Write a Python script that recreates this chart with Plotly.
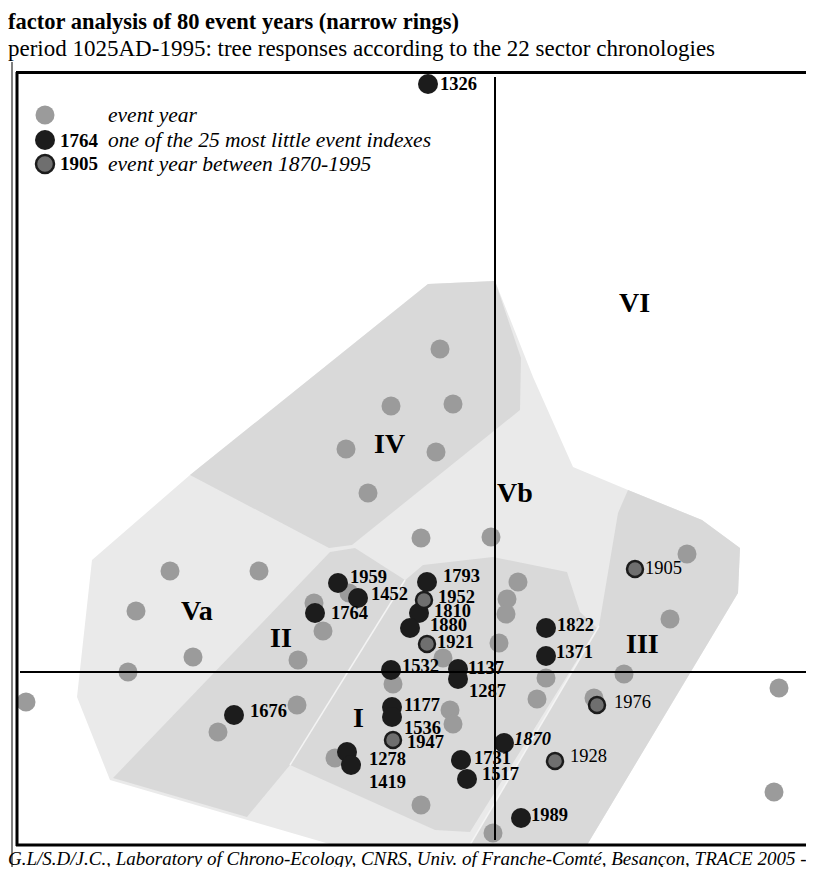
import plotly.graph_objects as go

# ---------------- data (factor scores: F1 horizontal, F2 vertical) ----------------
event_x = [-0.55, -1.04, -0.42, -1.49, -0.59, -1.27, -0.74, -0.04, -3.25, -2.36,
           -3.59, -3.02, -3.67, -4.69, -1.81, -1.46, -1.72, -1.97, -1.98, -2.77,
           -0.52, -1.02, -0.45, -0.42, -1.60, -0.74, -0.02, 0.23, 0.12, 0.11,
           0.04, 0.51, 0.42, 0.99, 1.29, 1.75, 1.92, 2.84, 2.79]
event_y = [3.23, 2.66, 2.68, 2.23, 2.20, 1.79, 1.34, 1.35, 1.01, 1.01,
           0.61, 0.15, 0.00, -0.30, 0.69, 0.79, 0.41, 0.12, -0.33, -0.60,
           0.14, -0.12, -0.38, -0.52, -0.86, -1.33, -1.61, 0.90, 0.73, 0.58,
           0.29, -0.06, -0.27, -0.26, -0.02, 0.53, 1.18, -0.16, -1.20]

low_years = ["1326", "1959", "1452", "1764", "1676", "1532", "1177", "1536", "1278", "1419",
             "1793", "1810", "1880", "1137", "1287", "1822", "1371", "1870", "1731", "1517", "1989"]
low_x = [-0.67, -1.57, -1.37, -1.80, -2.61, -1.04, -1.03, -1.03, -1.48, -1.44,
         -0.68, -0.76, -0.85, -0.37, -0.37, 0.51, 0.51, 0.09, -0.34, -0.28, 0.26]
low_y = [5.88, 0.89, 0.74, 0.59, -0.43, 0.02, -0.35, -0.45, -0.80, -0.93,
         0.90, 0.59, 0.44, 0.03, -0.07, 0.44, 0.16, -0.71, -0.88, -1.07, -1.46]

recent_years = ["1952", "1921", "1947", "1905", "1976", "1928"]
recent_x = [-0.71, -0.68, -1.02, 1.40, 1.02, 0.60]
recent_y = [0.72, 0.28, -0.68, 1.03, -0.33, -0.89]

region_names = ["VI", "IV", "Vb", "Va", "II", "III", "I"]
region_x = [1.39, -1.06, 0.20, -2.98, -2.14, 1.47, -1.37]
region_y = [3.70, 2.29, 1.80, 0.62, 0.35, 0.29, -0.45]

# group outlines (factor plane)
outer_x = [-4.03, -3.05, -0.67, 0.00, 0.38, 0.78, 1.33, 2.07, 2.45, 2.43, 0.92, -1.62, -3.85, -4.18]
outer_y = [1.12, 1.97, 3.88, 3.91, 2.95, 2.05, 1.82, 1.52, 1.24, 0.79, -1.73, -1.73, -1.08, -0.25]
g4_x = [-3.05, -0.67, 0.00, 0.26, 0.25, -1.43, -1.66]
g4_y = [1.97, 3.88, 3.91, 3.14, 2.62, 1.27, 1.24]
g2_x = [-3.82, -1.65, -1.40, -0.90, -2.05, -2.48]
g2_y = [-1.06, 1.20, 1.24, 0.92, -0.93, -1.45]
g1_x = [-0.92, -0.72, -0.02, 0.72, 0.85, 1.02, -0.25, -0.60, -2.05]
g1_y = [0.90, 1.07, 1.15, 1.00, 0.60, 0.44, -1.60, -1.58, -0.93]
g3_x = [1.33, 2.07, 2.45, 2.43, 0.92, -0.25, 1.04, 1.23]
g3_y = [1.82, 1.52, 1.24, 0.79, -1.73, -1.73, 0.46, 1.59]

# ---------------- styling / layout ----------------
PAGE_OFF = 8                      # default body margin of the html page
FW, FH = 814 - 2 * PAGE_OFF, 875 - 2 * PAGE_OFF
SERIF = "Liberation Serif"
LIGHT, DARK = "#eaeaea", "#d9d9d9"
GRAY, BLACK, MID = "#9b9b9b", "#1c1c1c", "#6f6f6f"
LBL = 18.5

# label offsets in pixels (dx right, dy down) relative to each point
low_off = [(12, 0), (12, -6), (13, -4), (16, 0), (16, -4), (11, -4), (12, -2), (12, 11), (22, 7), (18, 17),
           (16, -6), (15, -2), (20, -3), (10, -1), (11, 12), (11, -3), (10, -4), (10, -4), (13, -2), (15, -5), (10, -3)]
recent_off = [(14, -3), (10, -2), (14, 2), (10, -1), (17, -3), (15, -5)]
recent_bold = [True, True, True, False, False, False]

X0, X1 = -4.78, 3.11
Y0, Y1 = -1.73, 6.00


def px(x):
    return (x - PAGE_OFF) / FW


def py(y):
    return 1 - (y - PAGE_OFF) / FH


def path(xs, ys):
    s = "M %f,%f " % (xs[0], ys[0])
    for a, b in zip(xs[1:], ys[1:]):
        s += "L %f,%f " % (a, b)
    return s + "Z"


fig = go.Figure()

fig.add_trace(go.Scatter(x=event_x, y=event_y, mode="markers", hoverinfo="skip",
                         marker=dict(size=19, color=GRAY, line=dict(width=0))))
fig.add_trace(go.Scatter(x=low_x, y=low_y, mode="markers", hoverinfo="skip",
                         marker=dict(size=20, color=BLACK, line=dict(width=0))))
fig.add_trace(go.Scatter(x=recent_x, y=recent_y, mode="markers", hoverinfo="skip",
                         marker=dict(size=16, color=MID, line=dict(width=2.5, color=BLACK))))

shapes = []
for xs, ys, col in [(outer_x, outer_y, LIGHT), (g4_x, g4_y, DARK), (g2_x, g2_y, DARK),
                    (g1_x, g1_y, DARK), (g3_x, g3_y, DARK)]:
    shapes.append(dict(type="path", xref="x", yref="y", path=path(xs, ys), fillcolor=col,
                       line=dict(width=0), layer="below"))
# thin pale seams between adjacent groups
shapes.append(dict(type="line", xref="x", yref="y", x0=g2_x[3], y0=g2_y[3], x1=g2_x[4], y1=g2_y[4],
                   line=dict(color="#f4f4f4", width=1.5), layer="below"))
shapes.append(dict(type="line", xref="x", yref="y", x0=g3_x[6], y0=g3_y[6], x1=g3_x[5], y1=g3_y[5],
                   line=dict(color="#f4f4f4", width=1.5), layer="below"))
# factor axes
shapes.append(dict(type="line", xref="x", yref="y", x0=0, y0=-1.68, x1=0, y1=5.95,
                   line=dict(color="black", width=2)))
shapes.append(dict(type="line", xref="x", yref="y", x0=-4.75, y0=0, x1=X1, y1=0,
                   line=dict(color="black", width=2)))
# frame (open on the right, as in the original crop)
shapes.append(dict(type="line", xref="paper", yref="paper", x0=px(12), y0=py(62), x1=px(12), y1=0,
                   line=dict(color="black", width=1)))
shapes.append(dict(type="line", xref="paper", yref="paper", x0=px(17), y0=py(72), x1=px(17), y1=py(846),
                   line=dict(color="black", width=3)))
shapes.append(dict(type="line", xref="paper", yref="paper", x0=px(16), y0=py(72.5), x1=1, y1=py(72.5),
                   line=dict(color="black", width=3)))
shapes.append(dict(type="line", xref="paper", yref="paper", x0=px(16), y0=py(845), x1=1, y1=py(845),
                   line=dict(color="black", width=3)))
# legend symbols
for yy, fc, lc, sz in [(115, GRAY, GRAY, 19), (140, BLACK, BLACK, 20), (164, MID, BLACK, 18)]:
    shapes.append(dict(type="circle", xref="paper", yref="paper", xsizemode="pixel", ysizemode="pixel",
                       xanchor=px(45), yanchor=py(yy), x0=-sz / 2, x1=sz / 2, y0=-sz / 2, y1=sz / 2,
                       fillcolor=fc, line=dict(color=lc, width=2.5 if fc == MID else 0)))

ann = []
for t, x, y, (dx, dy) in zip(low_years, low_x, low_y, low_off):
    ann.append(dict(text=("<i>%s</i>" % t) if t == "1870" else t, x=x, y=y, xref="x", yref="y",
                    xanchor="left", yanchor="middle", xshift=dx - 2, yshift=-dy, showarrow=False,
                    font=dict(family=SERIF, size=LBL, color="black", weight="bold")))
for t, x, y, (dx, dy), b in zip(recent_years, recent_x, recent_y, recent_off, recent_bold):
    ann.append(dict(text=t, x=x, y=y, xref="x", yref="y",
                    xanchor="left", yanchor="middle", xshift=dx - 2, yshift=-dy, showarrow=False,
                    font=dict(family=SERIF, size=LBL, color="black", weight="bold" if b else "normal")))
for t, x, y in zip(region_names, region_x, region_y):
    ann.append(dict(text=t, x=x, y=y, xref="x", yref="y", xanchor="center", yanchor="middle",
                    showarrow=False, font=dict(family=SERIF, size=28, color="black", weight="bold")))


def ptext(t, x, y, size, weight="normal", style="normal", anchor="left"):
    ann.append(dict(text=t, x=px(x), y=py(y), xref="paper", yref="paper", xanchor=anchor,
                    yanchor="middle", showarrow=False,
                    font=dict(family=SERIF, size=size, color="black", weight=weight, style=style)))


ptext("factor analysis of 80 event years (narrow rings)", 6, 21, 22.5, weight="bold")
ptext("period 1025AD-1995: tree responses according to the 22 sector chronologies", 6, 48, 23)
ptext("event year", 106, 115, 21.5, style="italic")
ptext("one of the 25 most little event indexes", 106, 140, 21.5, style="italic")
ptext("event year between 1870-1995", 106, 164, 21.5, style="italic")
ptext("1764", 58, 140, 19, weight="bold")
ptext("1905", 58, 164, 19, weight="bold")
ptext("G.L/S.D/J.C., Laboratory of Chrono-Ecology, CNRS, Univ. of Franche-Comté, Besançon, TRACE 2005 - 12",
      6, 858, 19, style="italic")

fig.update_layout(
    width=FW, height=FH, margin=dict(l=0, r=0, t=0, b=0),
    paper_bgcolor="white", plot_bgcolor="white", showlegend=False,
    xaxis=dict(domain=[px(17), 1], range=[X0, X1], visible=False, fixedrange=True),
    yaxis=dict(domain=[py(845), py(72)], range=[Y0, Y1], visible=False, fixedrange=True),
    shapes=shapes, annotations=ann,
)

fig.write_html("out.html")
